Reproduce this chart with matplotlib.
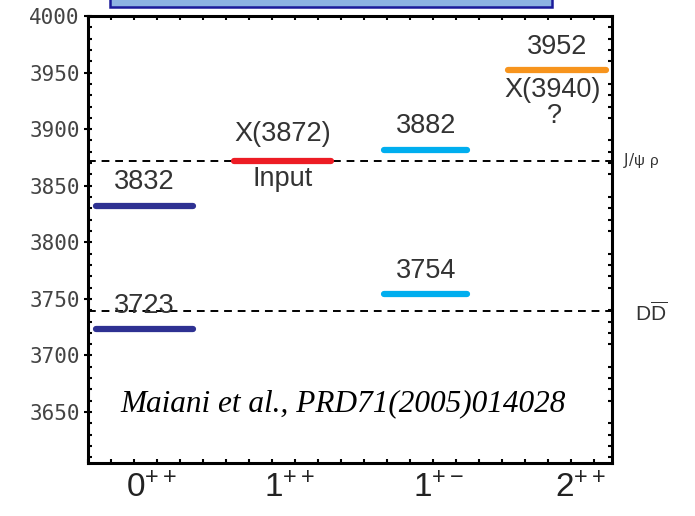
import matplotlib
matplotlib.use("Agg")
import matplotlib.pyplot as plt
from matplotlib.patches import Rectangle
from matplotlib.ticker import MultipleLocator

# level data (MeV)
states = ['0++', '0++', '1++', '1+-', '1+-', '2++']
masses = [3832, 3723, 3872, 3882, 3754, 3952]
centers = [0.41, 0.41, 1.41, 2.45, 2.45, 3.40]
widths = [0.70, 0.70, 0.70, 0.60, 0.60, 0.71]
colors = ['#2E3192', '#2E3192', '#ED1C24', '#00AEEF', '#00AEEF', '#F7941D']
labels = ['3832', '3723', 'X(3872)', '3882', '3754', '3952']

thresholds = [3872, 3739]
threshold_labels = [r'J/$\psi$ $\rho$', r'$\mathrm{D\overline{D}}$']

tick_pos = [0.46, 1.46, 2.54, 3.57]
tick_labels = [r'$0^{++}$', r'$1^{++}$', r'$1^{+-}$', r'$2^{++}$']
yticks = [3650, 3700, 3750, 3800, 3850, 3900, 3950, 4000]


def plot_levels():
    plt.rcParams['mathtext.fontset'] = 'custom'
    plt.rcParams['mathtext.rm'] = 'Liberation Sans'
    plt.rcParams['mathtext.it'] = 'Liberation Sans'

    fig = plt.figure(figsize=(6.95, 5.16), dpi=100)
    ax = fig.add_axes([88/695, 1 - 463/516, 524/695, 447/516])
    ax.set_xlim(0, 3.8)
    ax.set_ylim(3605, 4000)

    for y in thresholds:
        ax.axhline(y, color='black', lw=1.4, ls=(0, (4, 3)), zorder=1)

    for c, w, m, col in zip(centers, widths, masses, colors):
        ax.hlines(m, c - w/2, c + w/2, color=col, lw=4.5, capstyle='round', zorder=2)

    txt = dict(ha='center', va='center', fontsize=19.5, color='#333333', family='Liberation Sans')
    for c, m, lab in zip(centers, masses, labels):
        off = 24 if lab.startswith('X') else 21
        ax.text(c, m + off, lab, **txt)
    ax.text(centers[2], masses[2] - 16, 'Input', **txt)
    ax.text(centers[5] - 0.03, masses[5] - 17, 'X(3940)', **txt)
    ax.text(centers[5] - 0.02, masses[5] - 40, '?', **txt)

    ax.text(1.85, 3657, 'Maiani et al., PRD71(2005)014028', ha='center', va='center',
            fontsize=22.5, style='italic', family='Liberation Serif')

    ax.text(3.88, thresholds[0], threshold_labels[0], ha='left', va='center',
            fontsize=11, color='#333333')
    ax.text(3.97, thresholds[1] - 2, threshold_labels[1], ha='left', va='center',
            fontsize=15, color='#333333')

    ax.set_xticks(tick_pos)
    ax.set_xticklabels(tick_labels, fontsize=24, color='#222222')
    ax.set_yticks(yticks)
    ax.set_yticklabels([str(v) for v in yticks], fontsize=15, color='#444444',
                       family='DejaVu Sans Mono')
    ax.xaxis.set_minor_locator(MultipleLocator(1/6))
    ax.yaxis.set_minor_locator(MultipleLocator(10))
    ax.tick_params(axis='x', which='major', length=0, pad=6)
    ax.tick_params(axis='y', which='major', direction='inout', length=6, width=1.5, pad=3)
    ax.tick_params(which='minor', direction='in', length=3, width=1.5,
                   top=True, bottom=True, left=True, right=True)
    for s in ax.spines.values():
        s.set_linewidth(2.2)

    fig.patches.append(Rectangle((110/695, 1 - 7/516), 442/695, 0.05, transform=fig.transFigure,
                                 facecolor='#8DB3E2', edgecolor='#1A1A9A', lw=1.8))

    fig.savefig('out.png', dpi=100)


def main():
    plot_levels()


if __name__ == "__main__":
    main()
